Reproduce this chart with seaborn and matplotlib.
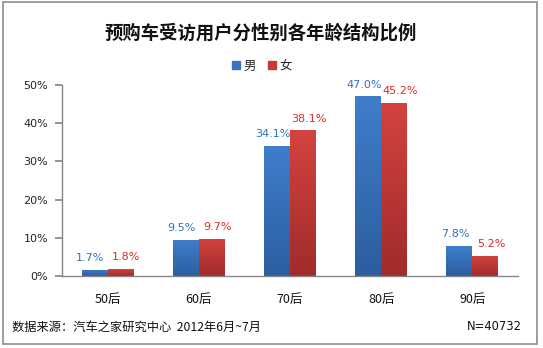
import matplotlib
matplotlib.use("Agg")
import matplotlib.pyplot as plt
import seaborn as sns
import pandas as pd
import numpy as np
from matplotlib.patches import Rectangle
from matplotlib.colors import LinearSegmentedColormap

# Data
categories = ["50后", "60后", "70后", "80后", "90后"]
male = [1.7, 9.5, 34.1, 47.0, 7.8]
female = [1.8, 9.7, 38.1, 45.2, 5.2]
series_names = ["男", "女"]
y_ticks = [0, 10, 20, 30, 40, 50]

title = "预购车受访用户分性别各年龄结构比例"
source_text = "数据来源：汽车之家研究中心  2012年6月~7月"
n_text = "N=40732"

bar_colors = ["#3A74C0", "#C53A38"]
gradients = [("#3F7ECB", "#2C5E9F"), ("#D3433F", "#A02C2B")]
label_colors = ["#2F73BE", "#D92B27"]
label_dx = [-3, 4]

df = pd.DataFrame({
    "age": categories * 2,
    "gender": [series_names[0]] * len(categories) + [series_names[1]] * len(categories),
    "value": male + female,
})

sns.set_theme(style="white")
plt.rcParams["font.family"] = ["Noto Sans CJK SC", "DejaVu Sans"]

fig = plt.figure(figsize=(5.43, 3.48), dpi=100)
ax = fig.add_axes([62 / 543, 1 - 276 / 348, (518 - 62) / 543, (276 - 85) / 348])

sns.barplot(data=df, x="age", y="value", hue="gender", order=categories,
            hue_order=series_names, palette=bar_colors, width=0.57, gap=0,
            saturation=1, ax=ax, legend=False, edgecolor="none")

ax.set_ylim(0, 50)
ax.set_xlim(-0.5, len(categories) - 0.5)

# Vertical shading on each bar, top lighter than bottom
grad = np.linspace(1, 0, 64).reshape(-1, 1)
for container, (top, bottom) in zip(ax.containers, gradients):
    cmap = LinearSegmentedColormap.from_list("bar", [bottom, top])
    for patch in container.patches:
        x0, y0 = patch.get_x(), patch.get_y()
        w, h = patch.get_width(), patch.get_height()
        im = ax.imshow(grad, cmap=cmap, aspect="auto", extent=(x0, x0 + w, y0, y0 + h),
                       origin="upper", zorder=patch.get_zorder() + 0.1,
                       interpolation="bilinear")
        im.set_clip_path(patch)
ax.set_xlim(-0.5, len(categories) - 0.5)
ax.set_ylim(0, 50)

ax.set_yticks(y_ticks)
ax.set_yticklabels([f"{t}%" for t in y_ticks], fontsize=8, color="#222222",
                   family=["DejaVu Sans"])
ax.set_xticks(range(len(categories)))
ax.set_xticklabels(categories, fontsize=9, color="#111111")
ax.set_xticks([i - 0.5 for i in range(len(categories) + 1)], minor=True)
ax.tick_params(axis="x", which="major", length=0, pad=12)
ax.tick_params(axis="x", which="minor", length=5, color="#868686", direction="out")
ax.tick_params(axis="y", length=5, color="#868686", direction="out", pad=5, left=True)
ax.set_xlabel("")
ax.set_ylabel("")
for side in ["top", "right"]:
    ax.spines[side].set_visible(False)
for side in ["left", "bottom"]:
    ax.spines[side].set_color("#868686")
    ax.spines[side].set_linewidth(1)

# Value labels above each bar
for container, color, dx in zip(ax.containers, label_colors, label_dx):
    for patch, v in zip(container.patches, container.datavalues):
        ax.annotate(f"{v:.1f}%", xy=(patch.get_x() + patch.get_width() / 2, patch.get_height()),
                    xytext=(dx, 5), textcoords="offset points", ha="center", va="bottom",
                    fontsize=8, color=color, family=["DejaVu Sans"])

# Title and legend
fig.text(261 / 543, 1 - 33 / 348, title, ha="center", va="center", fontsize=13.2,
         fontweight="bold", color="#111111")
handles = [Rectangle((0, 0), 1, 1, color=c) for c in bar_colors]
fig.legend(handles, series_names, loc="center", bbox_to_anchor=(262 / 543, 1 - 66 / 348),
           ncol=2, frameon=False, fontsize=9, handlelength=0.6, handleheight=0.6,
           handletextpad=0.3, columnspacing=1.0)

# Footer
fig.text(12 / 543, 1 - 327 / 348, source_text, ha="left", va="center", fontsize=8.8,
         color="#111111")
fig.text(522 / 543, 1 - 327 / 348, n_text, ha="right", va="center", fontsize=8.3,
         color="#111111", family=["DejaVu Sans"])

# Outer frame
fig.add_artist(Rectangle((3 / 543, 1 - 344 / 348), 534 / 543, 342 / 348,
                         transform=fig.transFigure, fill=False,
                         edgecolor="#8C8C8C", linewidth=1.2))

fig.savefig("out.png", dpi=100)
